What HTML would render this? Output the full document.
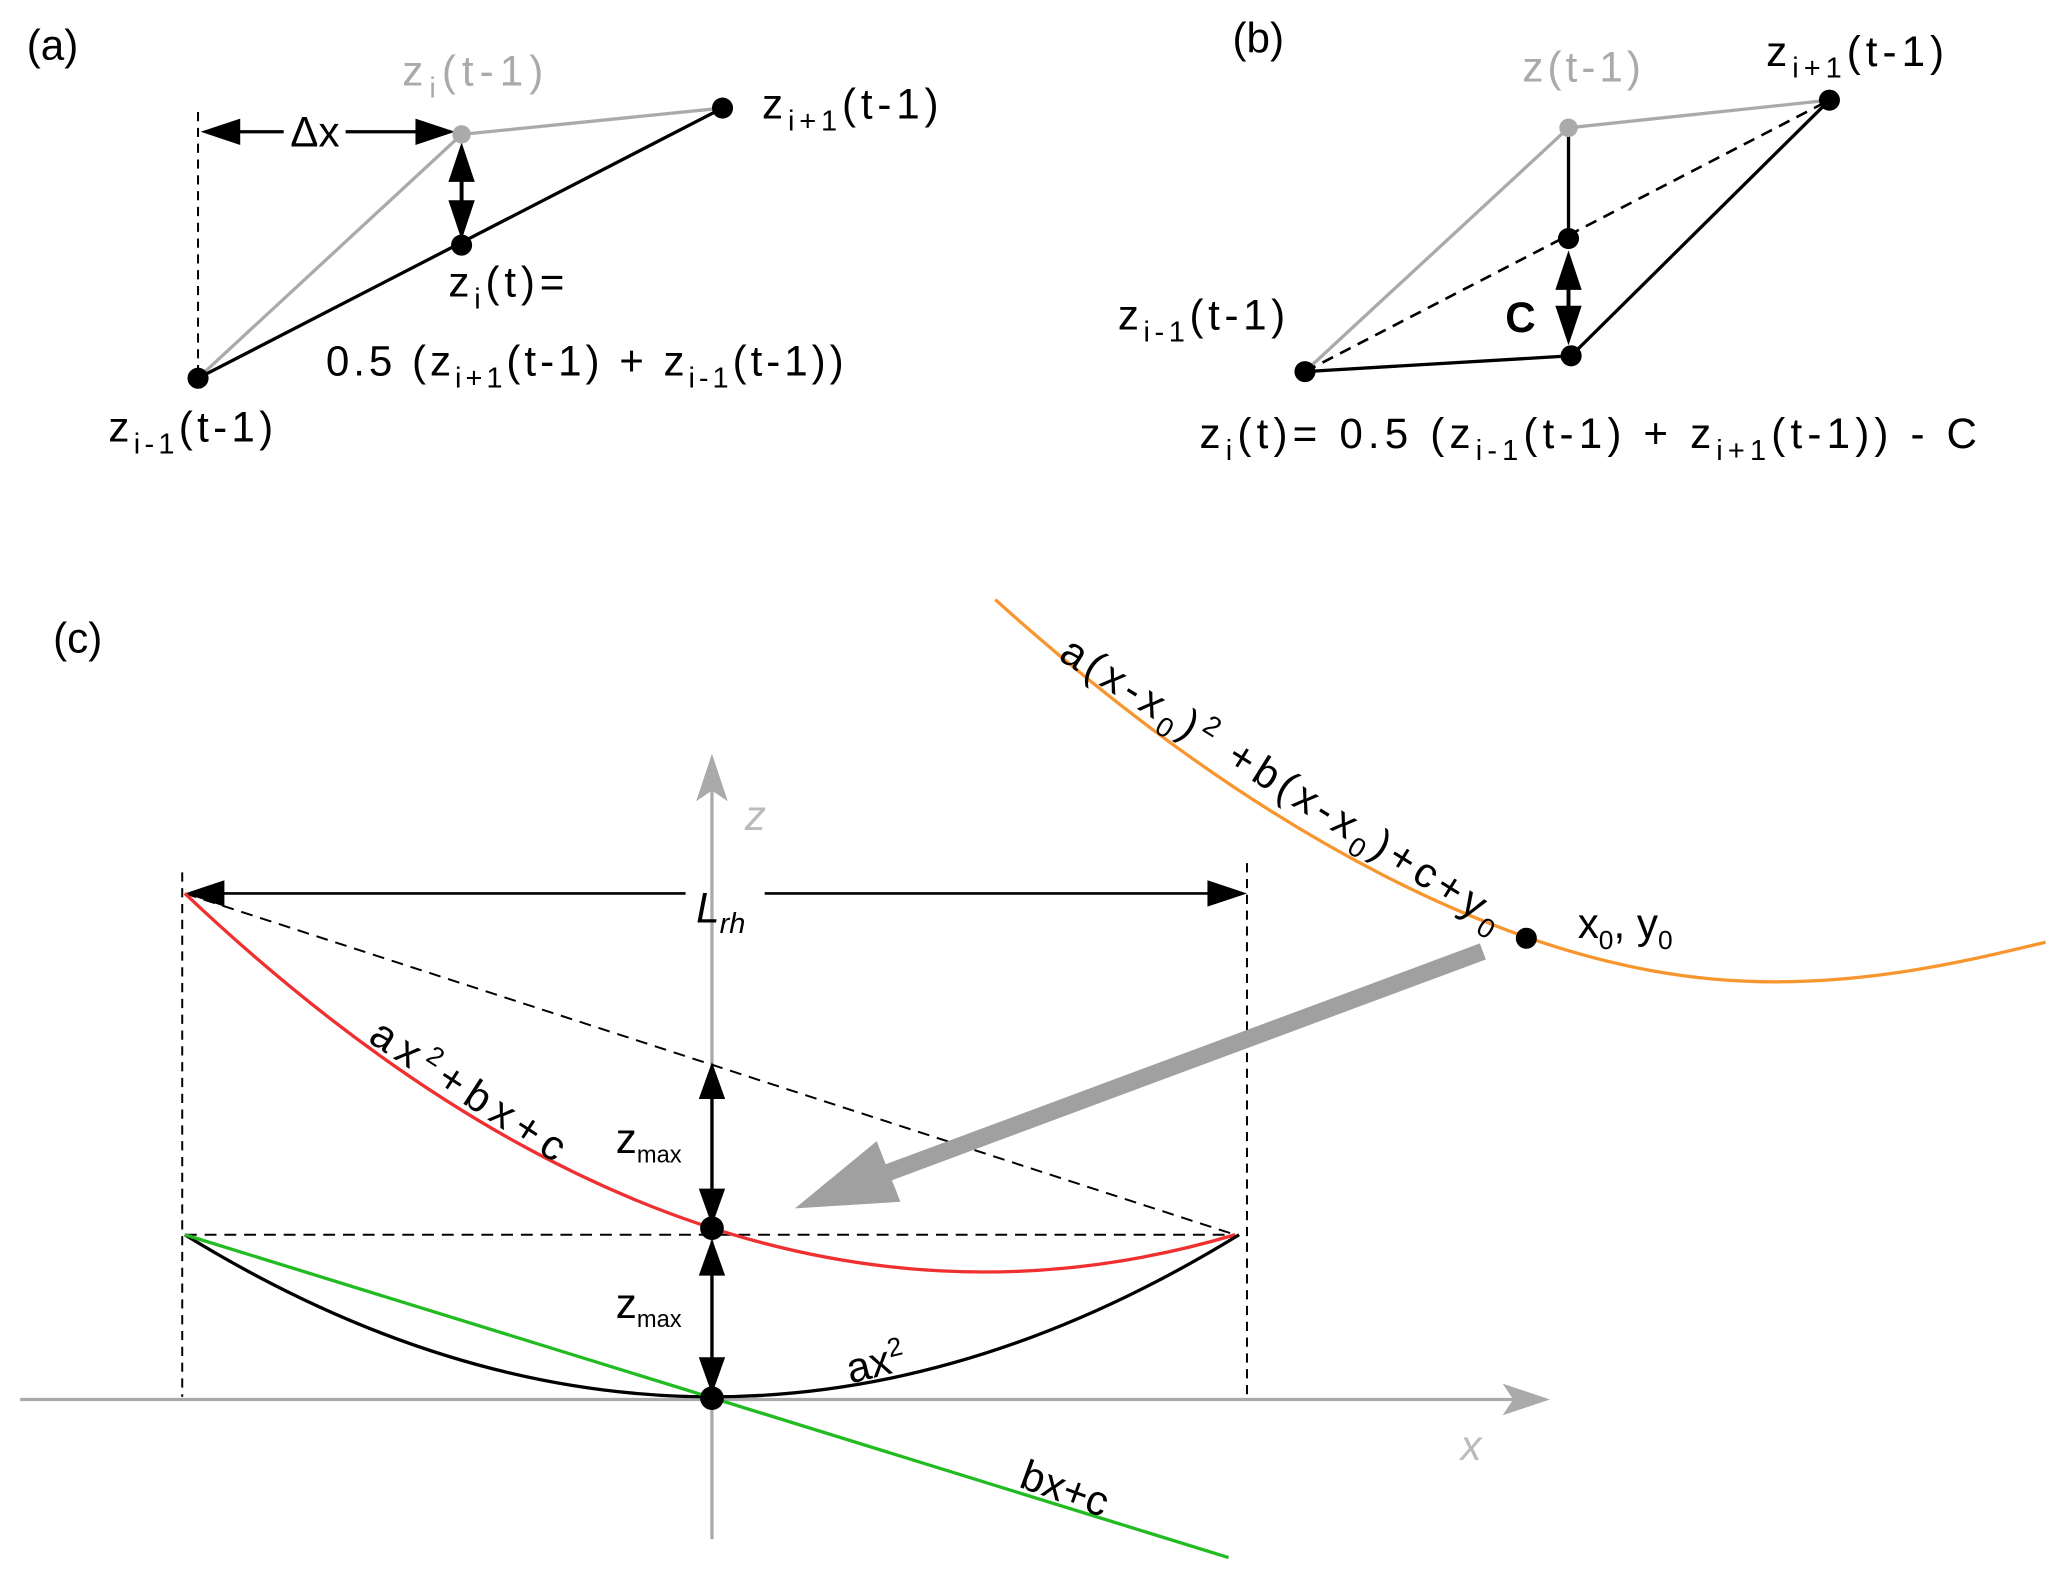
<!DOCTYPE html>
<html><head><meta charset="utf-8"><style>
html,body{margin:0;padding:0;background:#fff;}
svg{display:block;}
text{font-family:"Liberation Sans",sans-serif;font-size:32px;}
</style></head><body>
<svg width="2067" height="1580" viewBox="0 0 1568 1199" xmlns="http://www.w3.org/2000/svg">
<!-- (a) -->
<text x="20" y="45" font-size="30">(a)</text>
<line x1="150" y1="85" x2="150" y2="285" stroke="#000" stroke-width="1.5" stroke-dasharray="7,5"/>
<line x1="150" y1="287" x2="350" y2="102" stroke="#aaa" stroke-width="2.5"/>
<line x1="350" y1="102" x2="548" y2="82" stroke="#aaa" stroke-width="2.5"/>
<line x1="150" y1="287" x2="548" y2="82" stroke="#000" stroke-width="2.5"/>
<line x1="170" y1="100" x2="215" y2="100" stroke="#000" stroke-width="2.5"/>
<polygon points="152,100 182,90 182,110"/>
<line x1="262" y1="100" x2="320" y2="100" stroke="#000" stroke-width="2.5"/>
<polygon points="345,100 315,90 315,110"/>
<text x="220" y="111">Δx</text>
<line x1="350" y1="125" x2="350" y2="165" stroke="#000" stroke-width="3"/>
<polygon points="350,108 340,138 360,138"/>
<polygon points="350,182 340,152 360,152"/>
<circle cx="350" cy="102" r="7" fill="#aaa"/>
<circle cx="548" cy="82" r="8"/>
<circle cx="350" cy="186" r="8"/>
<circle cx="150" cy="287" r="8"/>
<text x="305" y="65" fill="#aaa" textLength="107" lengthAdjust="spacing">z<tspan font-size="22" dy="9">i</tspan><tspan dy="-9">(t-1)</tspan></text>
<text x="578" y="90" textLength="134" lengthAdjust="spacing">z<tspan font-size="22" dy="9">i+1</tspan><tspan dy="-9">(t-1)</tspan></text>
<text x="340" y="225" textLength="88" lengthAdjust="spacing">z<tspan font-size="22" dy="9">i</tspan><tspan dy="-9">(t)=</tspan></text>
<text x="247" y="285" textLength="393" lengthAdjust="spacing">0.5 (z<tspan font-size="22" dy="9">i+1</tspan><tspan dy="-9">(t-1) + z</tspan><tspan font-size="22" dy="9">i-1</tspan><tspan dy="-9">(t-1))</tspan></text>
<text x="82" y="335" textLength="125" lengthAdjust="spacing">z<tspan font-size="22" dy="9">i-1</tspan><tspan dy="-9">(t-1)</tspan></text>
<!-- (b) -->
<text x="935" y="40" font-size="30">(b)</text>
<polyline points="990,282 1190,97 1388,76" fill="none" stroke="#aaa" stroke-width="2.5"/>
<line x1="990" y1="282" x2="1388" y2="76" stroke="#000" stroke-width="2" stroke-dasharray="9,6"/>
<polyline points="990,282 1192,270 1388,76" fill="none" stroke="#000" stroke-width="2.5"/>
<line x1="1190" y1="97" x2="1190" y2="181" stroke="#000" stroke-width="2.5"/>
<line x1="1190" y1="210" x2="1190" y2="245" stroke="#000" stroke-width="3"/>
<polygon points="1190,190 1180,220 1200,220"/>
<polygon points="1190,262 1180,232 1200,232"/>
<circle cx="1190" cy="97" r="7" fill="#aaa"/>
<circle cx="1388" cy="76" r="8"/>
<circle cx="1190" cy="181" r="8"/>
<circle cx="1192" cy="270" r="8"/>
<circle cx="990" cy="282" r="8"/>
<text x="1142" y="252" font-weight="bold">C</text>
<text x="1155" y="62" fill="#aaa" textLength="90" lengthAdjust="spacing">z(t-1)</text>
<text x="1340" y="50" textLength="135" lengthAdjust="spacing">z<tspan font-size="22" dy="9">i+1</tspan><tspan dy="-9">(t-1)</tspan></text>
<text x="848" y="250" textLength="127" lengthAdjust="spacing">z<tspan font-size="22" dy="9">i-1</tspan><tspan dy="-9">(t-1)</tspan></text>
<text x="910" y="340" textLength="590" lengthAdjust="spacing">z<tspan font-size="22" dy="9">i</tspan><tspan dy="-9">(t)= 0.5 (z</tspan><tspan font-size="22" dy="9">i-1</tspan><tspan dy="-9">(t-1) + z</tspan><tspan font-size="22" dy="9">i+1</tspan><tspan dy="-9">(t-1)) - C</tspan></text>
<!-- (c) -->
<text x="40" y="495" font-size="30">(c)</text>
<line x1="15" y1="1062" x2="1150" y2="1062" stroke="#aaa" stroke-width="2.5"/>
<polygon points="1176,1062 1140,1050 1148,1062 1140,1074" fill="#aaa"/>
<line x1="540" y1="1168" x2="540" y2="595" stroke="#aaa" stroke-width="2.5"/>
<polygon points="540,572 528,608 540,600 552,608" fill="#aaa"/>
<text x="565" y="630" fill="#bbb" font-family="Liberation Serif,serif" font-style="italic">z</text>
<text x="1108" y="1108" fill="#bbb" font-family="Liberation Serif,serif" font-style="italic">x</text>
<line x1="138" y1="662" x2="138" y2="1060" stroke="#000" stroke-width="1.5" stroke-dasharray="7,5"/>
<line x1="946" y1="655" x2="946" y2="1060" stroke="#000" stroke-width="1.5" stroke-dasharray="7,5"/>
<line x1="160" y1="678" x2="520" y2="678" stroke="#000" stroke-width="2"/>
<line x1="580" y1="678" x2="925" y2="678" stroke="#000" stroke-width="2"/>
<polygon points="140,678 170,668 170,688"/>
<polygon points="946,678 916,668 916,688"/>
<text x="528" y="700" font-style="italic" font-size="32">L<tspan font-size="22" dy="8">rh</tspan></text>
<line x1="140" y1="678" x2="937" y2="937" stroke="#000" stroke-width="1.5" stroke-dasharray="9,6"/>
<line x1="140" y1="937" x2="937" y2="937" stroke="#000" stroke-width="1.5" stroke-dasharray="9,6"/>
<path d="M140,678 Q538.5,1055.4 937,937" fill="none" stroke="#f03030" stroke-width="2.5"/>
<path d="M140,937 Q540,1183 940,937" fill="none" stroke="#000" stroke-width="2.5"/>
<line x1="140" y1="937" x2="932" y2="1182" stroke="#22bb22" stroke-width="2.5"/>
<line x1="540" y1="830" x2="540" y2="910" stroke="#000" stroke-width="2.5"/>
<polygon points="540,806 530,834 550,834"/>
<polygon points="540,930 530,902 550,902"/>
<line x1="540" y1="965" x2="540" y2="1035" stroke="#000" stroke-width="2.5"/>
<polygon points="540,940 530,968 550,968"/>
<polygon points="540,1058 530,1030 550,1030"/>
<circle cx="540" cy="932" r="9"/>
<circle cx="540" cy="1061" r="9"/>
<text x="467" y="875" font-size="26">z<tspan font-size="18" dy="7">max</tspan></text>
<text x="467" y="1000" font-size="26">z<tspan font-size="18" dy="7">max</tspan></text>
<text transform="translate(278,790) rotate(33)" font-size="31" textLength="170" lengthAdjust="spacing">ax<tspan font-size="20" dy="-12">2</tspan><tspan dy="12">+bx+c</tspan></text>
<text transform="translate(645,1050) rotate(-14)">ax<tspan font-size="20" dy="-12">2</tspan></text>
<text transform="translate(772,1128) rotate(20)" font-family="Liberation Serif,serif">bx+c</text>
<!-- orange -->
<path d="M755,455 C960,640 1150,730 1300,743 C1400,752 1490,730 1552,715" fill="none" stroke="#f7962e" stroke-width="2.5"/>
<circle cx="1158" cy="712" r="8"/>
<text x="1197" y="712" font-size="30">x<tspan font-size="20" dy="8">0</tspan><tspan dy="-8">, y</tspan><tspan font-size="20" dy="8">0</tspan></text>
<text transform="translate(802,500) rotate(32)" font-size="31" textLength="390" lengthAdjust="spacing">a(x-x<tspan font-size="21" dy="8">0</tspan><tspan dy="-8">)</tspan><tspan font-size="21" dy="-12">2</tspan><tspan dy="12"> +b(x-x</tspan><tspan font-size="21" dy="8">0</tspan><tspan dy="-8">)+c+y</tspan><tspan font-size="21" dy="8">0</tspan></text>
<!-- gray arrow -->
<line x1="1125" y1="722" x2="665" y2="893" stroke="#a0a0a0" stroke-width="13"/>
<polygon points="603,917 665,866 683,912" fill="#a0a0a0"/>
</svg>
</body></html>
